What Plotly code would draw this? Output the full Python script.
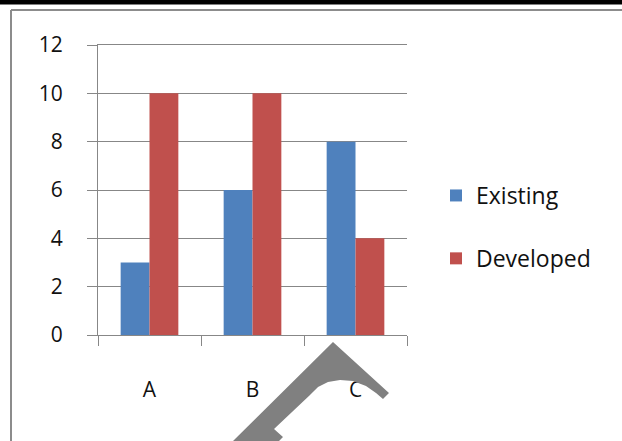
import plotly.graph_objects as go

# Chart data
categories = ["A", "B", "C"]
existing = [3, 6, 8]
developed = [10, 10, 4]
y_ticks = [0, 2, 4, 6, 8, 10, 12]

W, H = 622, 441
L, R, T, B = 98, 215, 45, 106
PW, PH = W - L - R, H - T - B


def paper(px, py):
    """Convert a page pixel position to paper coordinates."""
    return (px - L) / PW, (H - B - py) / PH


GRID = "#878787"
FONT = "Open Sans"

fig = go.Figure()
fig.add_bar(x=categories, y=existing, name="Existing", legendgroup="existing",
            marker=dict(color="#4F81BD", line=dict(width=0)))
fig.add_bar(x=categories, y=developed, name="Developed", legendgroup="developed",
            marker=dict(color="#C0504D", line=dict(width=0)))

# Decorative outline: heavy top rule and grey frame
shapes = [
    dict(type="rect", xref="paper", yref="paper",
         x0=paper(0, 0)[0], x1=paper(W, 0)[0], y0=paper(0, 0)[1], y1=paper(0, 4.5)[1],
         fillcolor="black", line=dict(width=0), layer="above"),
    dict(type="line", xref="paper", yref="paper",
         x0=paper(11, 10)[0], x1=paper(W, 10)[0], y0=paper(11, 10)[1], y1=paper(W, 10)[1],
         line=dict(color="#8c8c8c", width=2), layer="above"),
    dict(type="line", xref="paper", yref="paper",
         x0=paper(11, 10)[0], x1=paper(11, H)[0], y0=paper(11, 10)[1], y1=paper(11, H)[1],
         line=dict(color="#8c8c8c", width=2), layer="above"),
]

# Grey arrow-like stroke over the lower axis area
stroke_px = [(333, 342), (389, 393), (383, 399), (376, 393), (366, 386), (353, 381),
             (340, 380), (328, 382), (318, 387), (310, 395), (274, 429), (283, 437),
             (279, 441), (233, 441)]
pts = [paper(x, y) for x, y in stroke_px]
path = "M " + " L ".join(f"{x:.4f},{y:.4f}" for x, y in pts) + " Z"
shapes.append(dict(type="path", xref="paper", yref="paper", path=path,
                   fillcolor="#808080", line=dict(width=0), layer="above"))

fig.update_layout(
    width=W, height=H, autosize=False,
    margin=dict(l=L, r=R, t=T, b=B, pad=0),
    paper_bgcolor="white", plot_bgcolor="white",
    font=dict(family=FONT, size=21, color="#111111"),
    barmode="group", bargap=0.44, bargroupgap=0,
    showlegend=True,
    legend=dict(x=paper(436, 0)[0], xanchor="left", y=paper(0, 227)[1], yanchor="middle",
                traceorder="grouped", tracegroupgap=30,
                font=dict(family=FONT, size=23, color="#111111"),
                bgcolor="rgba(0,0,0,0)", borderwidth=0),
    xaxis=dict(type="category", showgrid=False, showline=True, mirror=True,
               linecolor=GRID, linewidth=1,
               ticks="outside", tickson="boundaries", ticklen=10, tickcolor=GRID, tickwidth=1,
               ticklabelstandoff=36, tickfont=dict(family=FONT, size=21), zeroline=False),
    yaxis=dict(range=[0, 12], tickvals=y_ticks, showgrid=True, gridcolor=GRID, gridwidth=1,
               showline=True, linecolor=GRID, linewidth=1, ticks="outside", ticklen=10,
               tickcolor=GRID, tickwidth=1, ticklabelstandoff=20, zeroline=False,
               tickfont=dict(family=FONT, size=21)),
    shapes=shapes,
)

fig.write_html("out.html")
